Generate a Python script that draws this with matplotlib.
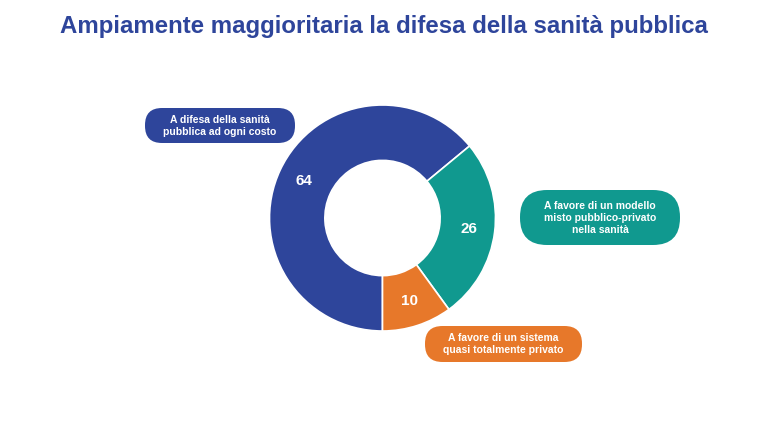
import numpy as np
import matplotlib.pyplot as plt
from matplotlib.patches import FancyBboxPatch

labels = ["A difesa della sanità\npubblica ad ogni costo",
          "A favore di un modello\nmisto pubblico-privato\nnella sanità",
          "A favore di un sistema\nquasi totalmente privato"]
values = [64, 26, 10]
colors = ["#2E459B", "#10998F", "#E7782A"]

title = "Ampiamente maggioritaria la difesa della sanità pubblica"

fig = plt.figure(figsize=(7.67, 4.40), dpi=100)
ax = fig.add_axes([0, 0, 1, 1])

# donut, clockwise from 6 o'clock
cx, cy, r = 382.5, 222, 113
wedges, _ = ax.pie(values, colors=colors, startangle=-90, counterclock=False,
                   center=(cx, cy), radius=r, frame=True,
                   wedgeprops=dict(width=r * 0.49, edgecolor="white", linewidth=1.2))
ax.set_xlim(0, 767)
ax.set_ylim(0, 440)
ax.set_aspect("equal")
ax.axis("off")

# numbers inside the ring
for w, v in zip(wedges, values):
    mid = np.deg2rad((w.theta1 + w.theta2) / 2)
    rr = r * 0.77
    ax.text(cx + rr * np.cos(mid), cy + rr * np.sin(mid), str(v), color="white",
            fontsize=11, fontweight="bold", ha="center", va="center",
            family="Liberation Sans")

# callout boxes (x0, y0, w, h in pixels, y up)
boxes = [(145, 440 - 143, 150, 35), (520, 440 - 245, 160, 55), (425, 440 - 362, 157, 36)]
for (x0, y0, bw, bh), lab, c in zip(boxes, labels, colors):
    p = FancyBboxPatch((x0, y0), bw, bh,
                       boxstyle=f"round,pad=0,rounding_size={bh/2 - 0.5}",
                       facecolor=c, edgecolor="none")
    ax.add_patch(p)
    ax.text(x0 + bw / 2, y0 + bh / 2, lab, color="white", fontsize=7.5,
            fontweight="bold", ha="center", va="center", linespacing=1.25,
            family="Liberation Sans")

fig.text(0.5, 1 - 27 / 440, title, color="#2E459B", fontsize=17.3,
         fontweight="bold", ha="center", va="center", family="Liberation Sans")

fig.savefig("out.png", dpi=100)
